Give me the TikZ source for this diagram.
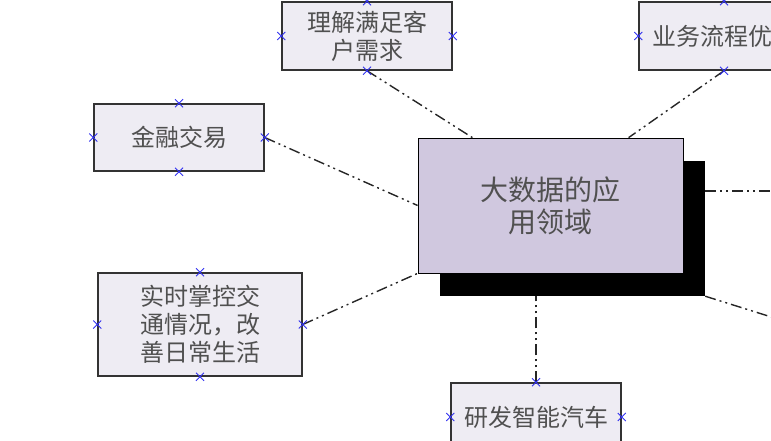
\documentclass[tikz,border=0pt]{standalone}
\usepackage{fontspec}
\setmainfont{Noto Sans CJK SC}
\usetikzlibrary{shapes.misc}
\definecolor{boxfill}{HTML}{EEECF3}
\definecolor{appfill}{HTML}{D0C8DF}
\definecolor{txtgray}{HTML}{505050}
\definecolor{markblue}{HTML}{3030F0}

\begin{document}
\begin{tikzpicture}[x=1pt,y=-1pt,
	leaf/.style={draw=black!80,line width=1.5pt,fill=boxfill,text=txtgray,align=center,inner sep=0pt,
		minimum width=170pt,minimum height=68pt,font=\fontsize{24}{28}\selectfont},
	hub/.style={draw=black,line width=0.8pt,fill=appfill,text=txtgray,align=center,inner sep=0pt,
		minimum width=265pt,minimum height=135pt,font=\fontsize{28}{32}\selectfont},
	link/.style={draw=black!85,line width=1.4pt,dash pattern=on 11pt off 4pt on 2pt off 4pt on 2pt off 4pt},
	cpoint/.style={draw=markblue,cross out,line width=1pt,minimum size=7pt,inner sep=0pt}]
	\clip (0,0) rectangle (771,441);
	% centre box with its shadow
	\node[fill=black,minimum width=265pt,minimum height=135pt] (appshadow) at (572.5,228.5) {};
	\node[hub] (app) at (550.5,205.5) {大数据的应\\用领域};
	% fields round it
	\node[leaf] (lj) at (367,36) {理解满足客\\户需求};
	\node[leaf] (yw) at (724,36) {业务流程优\hphantom{化}};
	\node[leaf,minimum height=67pt] (jr) at (179,137.5) {金融交易};
	\node[leaf,minimum width=204pt,minimum height=103pt] (ss) at (200,324.5) {实时掌控交\\通情况，改\\善日常生活};
	\node[leaf] (yf) at (536,417) {研发智能汽车};
	\coordinate (out1) at (800,191);
	\coordinate (out2) at (800,326);
	% connectors
	\draw[link] (lj.south) -- (app.139);
	\draw[link] (yw.south) -- (app.41);
	\draw[link] (jr.east) -- (app.west);
	\draw[link] (ss.east) -- (app.south west);
	\draw[link] (yf.north) -- (yf.north |- appshadow.south);
	\draw[link] (appshadow.east |- out1) -- (out1);
	\draw[link] (appshadow.south east) -- (out2);
	% connection points
	\foreach \n in {lj,yw,jr,ss,yf}
		\foreach \a in {north,south,east,west}
			\node[cpoint] at (\n.\a) {};
\end{tikzpicture}
\end{document}
